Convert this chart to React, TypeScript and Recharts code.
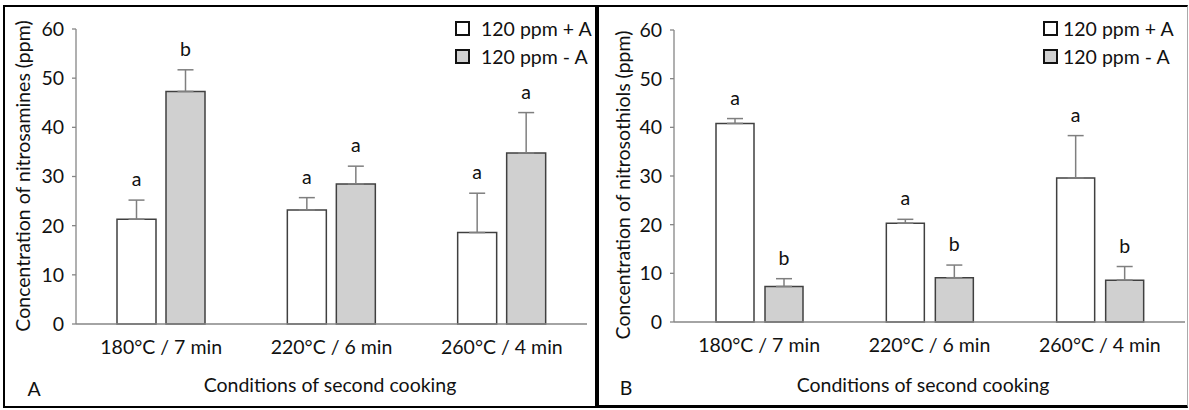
import React from "react";
import {
  BarChart,
  Bar,
  XAxis,
  YAxis,
  ErrorBar,
  LabelList,
  Legend,
} from "recharts";

const conditions = ["180°C / 7 min", "220°C / 6 min", "260°C / 4 min"];
const yTicks = [0, 10, 20, 30, 40, 50, 60];

// panel A - nitrosamines
const aminesWithA = [21.3, 23.2, 18.6];
const aminesWithAErr = [3.9, 2.5, 8.0];
const aminesWithALetters = ["a", "a", "a"];
const aminesWithoutA = [47.3, 28.5, 34.8];
const aminesWithoutAErr = [4.4, 3.6, 8.2];
const aminesWithoutALetters = ["b", "a", "a"];

// panel B - nitrosothiols
const thiolsWithA = [40.8, 20.3, 29.6];
const thiolsWithAErr = [1.0, 0.8, 8.7];
const thiolsWithALetters = ["a", "a", "a"];
const thiolsWithoutA = [7.3, 9.1, 8.6];
const thiolsWithoutAErr = [1.6, 2.6, 2.8];
const thiolsWithoutALetters = ["b", "b", "b"];

const seriesNames = ["120 ppm + A", "120 ppm - A"];

const FONT = "Lato, 'Open Sans', sans-serif";
const FS = 19.5;
const GREY_FILL = "#d0d0d0";
const TEXT = "#111";

type Row = {
  name: string;
  plus: number;
  plusErr: number[];
  plusLetter: string;
  minus: number;
  minusErr: number[];
  minusLetter: string;
};

const buildRows = (
  plus: number[],
  plusErr: number[],
  plusLetters: string[],
  minus: number[],
  minusErr: number[],
  minusLetters: string[]
): Row[] =>
  conditions.map((name, i) => ({
    name,
    plus: plus[i],
    plusErr: [0, plusErr[i]],
    plusLetter: plusLetters[i],
    minus: minus[i],
    minusErr: [0, minusErr[i]],
    minusLetter: minusLetters[i],
  }));

const rowsA = buildRows(
  aminesWithA,
  aminesWithAErr,
  aminesWithALetters,
  aminesWithoutA,
  aminesWithoutAErr,
  aminesWithoutALetters
);
const rowsB = buildRows(
  thiolsWithA,
  thiolsWithAErr,
  thiolsWithALetters,
  thiolsWithoutA,
  thiolsWithoutAErr,
  thiolsWithoutALetters
);

// letter sits above the error bar; pixel per unit taken from the drawn bar
const letterLabel =
  (rows: Row[], key: "plus" | "minus") => (props: any) => {
    const { x, y, width, height, index, value } = props;
    const row = rows[index];
    if (!row) return null;
    const perUnit = Number(height) / row[key];
    const err = key === "plus" ? row.plusErr[1] : row.minusErr[1];
    const top = Number(y) - err * perUnit - 14;
    return (
      <text
        x={Number(x) + Number(width) / 2}
        y={top}
        textAnchor="middle"
        fontSize={FS}
        fontFamily={FONT}
        fill={TEXT}
      >
        {value}
      </text>
    );
  };

const LegendBox = ({ gap }: { gap: number }) => (
  <div style={{ fontFamily: FONT, fontSize: FS, color: TEXT }}>
    {seriesNames.map((n, i) => (
      <div
        key={n}
        style={{ display: "flex", alignItems: "center", height: 28 }}
      >
        <span
          style={{
            width: 15,
            height: 15,
            boxSizing: "border-box",
            border: "2px solid #111",
            background: i === 0 ? "#fff" : GREY_FILL,
            marginRight: gap,
          }}
        />
        <span style={{ whiteSpace: "nowrap" }}>{n}</span>
      </div>
    ))}
  </div>
);

interface PanelProps {
  rows: Row[];
  left: number;
  width: number;
  margin: { top: number; right: number; left: number; bottom: number };
  barSize: number;
  barGap: number;
  legendLeft: number;
  legendGap: number;
}

const Panel: React.FC<PanelProps> = ({
  rows,
  left,
  width,
  margin,
  barSize,
  barGap,
  legendLeft,
  legendGap,
}) => (
  <div style={{ position: "absolute", left, top: 0 }}>
    <BarChart
      width={width}
      height={410}
      data={rows}
      margin={margin}
      barSize={barSize}
      barGap={barGap}
    >
      <XAxis
        dataKey="name"
        height={30}
        tickLine={false}
        tickSize={0}
        tickMargin={16}
        axisLine={{ stroke: "#868686", strokeWidth: 1.3 }}
        tick={{ fontSize: FS, fontFamily: FONT, fill: TEXT }}
      />
      <YAxis
        width={40}
        domain={[0, 60]}
        ticks={yTicks}
        interval={0}
        tickSize={4}
        tickMargin={8}
        axisLine={{ stroke: "#868686", strokeWidth: 1.3 }}
        tickLine={{ stroke: "#868686", strokeWidth: 1.3 }}
        tick={{ fontSize: FS, fontFamily: FONT, fill: TEXT }}
      />
      <Legend
        layout="vertical"
        align="center"
        verticalAlign="middle"
        wrapperStyle={{ left: legendLeft, top: 14, width: "auto" }}
        content={() => <LegendBox gap={legendGap} />}
      />
      <Bar
        dataKey="plus"
        name={seriesNames[0]}
        fill="#fff"
        stroke="#404040"
        strokeWidth={1.5}
        isAnimationActive={false}
      >
        <ErrorBar
          dataKey="plusErr"
          direction="y"
          width={8}
          stroke="#7f7f7f"
          strokeWidth={1.5}
          isAnimationActive={false}
        />
        <LabelList dataKey="plusLetter" content={letterLabel(rows, "plus")} />
      </Bar>
      <Bar
        dataKey="minus"
        name={seriesNames[1]}
        fill={GREY_FILL}
        stroke="#404040"
        strokeWidth={1.5}
        isAnimationActive={false}
      >
        <ErrorBar
          dataKey="minusErr"
          direction="y"
          width={8}
          stroke="#7f7f7f"
          strokeWidth={1.5}
          isAnimationActive={false}
        />
        <LabelList
          dataKey="minusLetter"
          content={letterLabel(rows, "minus")}
        />
      </Bar>
    </BarChart>
  </div>
);

const textAt = (
  text: string,
  cx: number,
  cy: number,
  rotate = false
): React.ReactNode => (
  <div
    style={{
      position: "absolute",
      left: cx,
      top: cy,
      transform: `translate(-50%, -50%)${rotate ? " rotate(-90deg)" : ""}`,
      whiteSpace: "nowrap",
      fontFamily: FONT,
      fontSize: FS,
      color: TEXT,
      lineHeight: 1,
    }}
  >
    {text}
  </div>
);

export default function App() {
  return (
    <div
      style={{
        position: "absolute",
        left: 0,
        top: 0,
        width: 1189,
        height: 410,
        background: "#fff",
        overflow: "hidden",
      }}
    >
      <div
        style={{
          position: "absolute",
          left: 3,
          top: 5,
          width: 594,
          height: 403,
          boxSizing: "border-box",
          border: "2px solid #000",
        }}
      />
      <div
        style={{
          position: "absolute",
          left: 596,
          top: 5,
          width: 592,
          height: 403,
          boxSizing: "border-box",
          borderLeft: "3px solid #000",
          borderTop: "2px solid #000",
          borderBottom: "3px solid #000",
          borderRight: "1px solid #aaa",
        }}
      />
      <Panel
        rows={rowsA}
        left={0}
        width={597}
        margin={{ top: 29, right: 10, left: 36, bottom: 56 }}
        barSize={39}
        barGap={10}
        legendLeft={455}
        legendGap={11}
      />
      <Panel
        rows={rowsB}
        left={597}
        width={592}
        margin={{ top: 30, right: 4, left: 37, bottom: 58 }}
        barSize={38}
        barGap={11}
        legendLeft={446}
        legendGap={5}
      />
      {textAt("Concentration of nitrosamines (ppm)", 23, 176, true)}
      {textAt("Concentration of nitrosothiols (ppm)", 623, 185, true)}
      {textAt("Conditions of second cooking", 330, 385)}
      {textAt("Conditions of second cooking", 923, 385)}
      {textAt("A", 34, 389)}
      {textAt("B", 626, 388)}
    </div>
  );
}
